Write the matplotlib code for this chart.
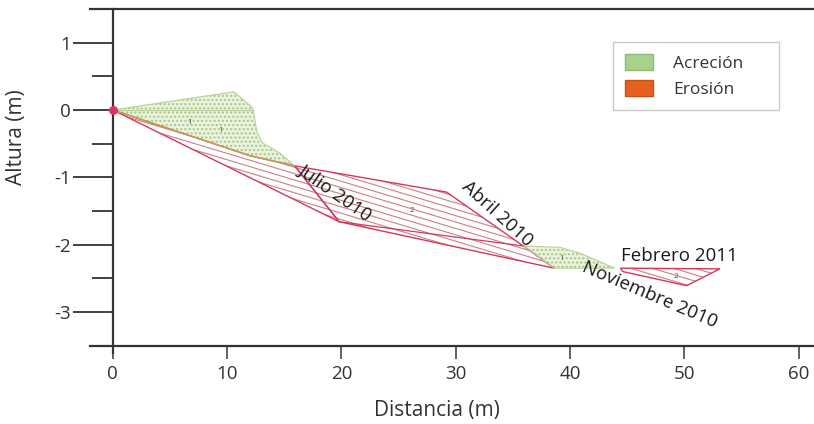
import matplotlib
matplotlib.use("Agg")
import matplotlib.pyplot as plt
from matplotlib.patches import Polygon, Patch
from matplotlib.collections import LineCollection
import numpy as np

plt.rcParams['font.family'] = ['Open Sans', 'DejaVu Sans']
plt.rcParams['axes.unicode_minus'] = False

# zonas de acrecion (distancia m, altura m)
acc1_x = [0, 10.6, 12.25, 12.6, 13.1, 14.6, 15.9, 12.0]
acc1_y = [0, 0.27, 0.03, -0.33, -0.49, -0.64, -0.83, -0.68]
acc2_x = [35.9, 39.1, 40.9, 43.9, 38.6]
acc2_y = [-2.02, -2.04, -2.13, -2.35, -2.35]

# zonas de erosion
ero1_x = [0, 12.0, 15.9, 19.8]
ero1_y = [0, -0.68, -0.83, -1.66]
ero2_x = [15.9, 29.2, 35.9, 38.6, 19.8]
ero2_y = [-0.83, -1.22, -2.02, -2.35, -1.66]
ero3_x = [44.4, 53.1, 50.2, 44.6]
ero3_y = [-2.35, -2.36, -2.61, -2.40]

# lineas internas de los perfiles
inner_x = [[0, 12.25], [19.8, 35.9]]
inner_y = [[0, 0.0], [-1.66, -2.02]]

# etiquetas de zona
zone_lbl = ['1', '1', '2', '1', '2']
zone_x = [6.7, 9.4, 26.2, 39.3, 49.3]
zone_y = [-0.19, -0.30, -1.49, -2.2, -2.48]

# fechas de los perfiles
dates = ['Julio 2010', 'Abril 2010', 'Noviembre 2010', 'Febrero 2011']
date_x = [19.4, 33.6, 47.0, 49.6]
date_y = [-1.23, -1.54, -2.74, -2.17]
date_rot = [-35, -42, -23, 0]

fig = plt.figure(figsize=(8.14, 4.24), dpi=100)
ax = fig.add_axes([90 / 814, 71 / 424, 724 / 814, 344 / 424])

red = '#d2385a'
hatch_col = '#c98088'

# erosion: poligono + rayado inclinado recortado
slope = -0.051
cs = np.arange(-4.6, 1.6, 0.095)
for px, py in [(ero1_x, ero1_y), (ero2_x, ero2_y), (ero3_x, ero3_y)]:
   poly = Polygon(np.column_stack([px, py]), closed=True, facecolor='none',
                  edgecolor=red, lw=1.0, zorder=3)
   ax.add_patch(poly)
   segs = [[(-2, c - 2 * slope), (62, c + 62 * slope)] for c in cs]
   lc = LineCollection(segs, colors=hatch_col, linewidths=0.8, zorder=2)
   ax.add_collection(lc)
   lc.set_clip_path(poly)

# acrecion: verde punteado
for px, py in [(acc1_x, acc1_y), (acc2_x, acc2_y)]:
   ax.add_patch(Polygon(np.column_stack([px, py]), closed=True, facecolor='#eaf3dc',
                        edgecolor='#a9c48a', hatch='....', lw=0, zorder=2))
   ax.add_patch(Polygon(np.column_stack([px, py]), closed=True, facecolor='none',
                        edgecolor='#b9d09a', lw=0.8, zorder=3))

ax.plot(inner_x[0], inner_y[0], color='#b9d09a', lw=0.8, zorder=3)
ax.plot(inner_x[1], inner_y[1], color=red, lw=0.9, zorder=3)
# limite inferior de la acrecion (linea marron)
ax.plot(acc1_x[-2:] + [0], acc1_y[-2:] + [0], color='#c49a55', lw=1.0, zorder=4)

for t, x, y in zip(zone_lbl, zone_x, zone_y):
   ax.text(x, y, t, fontsize=6, color='#555555', ha='center', va='center', zorder=5)

for t, x, y, r in zip(dates, date_x, date_y, date_rot):
   ax.text(x, y, t, fontsize=13.5, color='#1a1a1a', ha='center', va='center',
           rotation=r, rotation_mode='anchor', zorder=6)

ax.scatter([0], [0], s=30, color='#e0306a', zorder=7, clip_on=False)

ax.set_xlim(-2.0, 61.34)
ax.set_ylim(-3.61, 1.50)

for s in ['left', 'bottom', 'top']:
   ax.spines[s].set_color('#333333')
   ax.spines[s].set_linewidth(1.6)
ax.spines['right'].set_visible(False)
ax.spines['left'].set_position(('data', 0))
ax.spines['bottom'].set_position(('data', -3.5))

ax.set_xticks(range(0, 61, 10))
ax.set_yticks([-3, -2, -1, 0, 1])
ax.set_yticks([-2.5, -1.5, -0.5, 0.5], minor=True)
ax.tick_params(axis='y', which='major', length=29, width=1.3, color='#333333',
               labelsize=13.5, labelcolor='#333333', pad=1)
ax.tick_params(axis='y', which='minor', length=15, width=1.3, color='#333333')
ax.tick_params(axis='x', length=9, width=1.3, color='#555555', labelsize=13.5,
               labelcolor='#333333', pad=5)

ax.set_xlabel('Distancia (m)', fontsize=15, color='#333333')
ax.xaxis.set_label_coords((437 - 90) / 724, (353 - 400) / 344)
ax.set_ylabel('Altura (m)', fontsize=15, color='#333333')
ax.yaxis.set_label_coords((27 - 90) / 724, (353 - 137) / 344)

handles = [Patch(facecolor='#a9d18e', edgecolor='#8fb873', label='Acreción'),
           Patch(facecolor='#e8601f', edgecolor='#c85015', label='Erosión')]
leg = ax.legend(handles=handles, loc='upper left', mode='expand',
                bbox_to_anchor=(0.722, 0.709, 0.2293, 0.195),
                fancybox=False, edgecolor='#bfbfbf', fontsize=12.5, handlelength=1.6,
                handleheight=1.05, handletextpad=1.2, borderpad=0.7, labelspacing=0.45,
                borderaxespad=0)
leg.get_frame().set_linewidth(1.0)
for t in leg.get_texts():
   t.set_color('#333333')

fig.savefig('out.png', dpi=100)
